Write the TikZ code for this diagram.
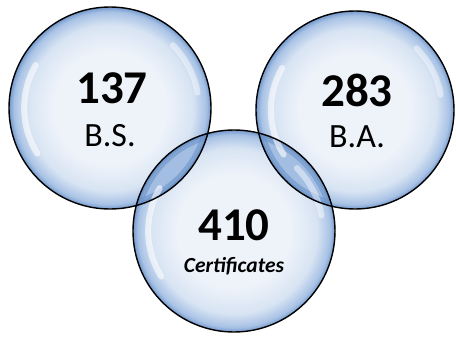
\documentclass[tikz,border=0pt]{standalone}
\usepackage{fontspec}
\setmainfont{Carlito}
\usetikzlibrary{calc}
\definecolor{bin}{HTML}{EEF3FA}
\definecolor{bmid}{HTML}{D8E4F3}
\definecolor{bedge}{HTML}{A8C2E5}
\definecolor{bedgeb}{HTML}{7499CC}
\definecolor{lensc}{HTML}{A3BEE2}
\definecolor{lensd}{HTML}{6790C7}
\pgfdeclareradialshading{bubble}{\pgfpoint{0bp}{0bp}}{color(0bp)=(bin); color(14bp)=(bin); color(20.5bp)=(bmid); color(23.8bp)=(bedge); color(25bp)=(bedgeb); color(50bp)=(bedgeb)}
\tikzset{
  bubblefill/.style={shading=bubble},
  outline/.style={draw=black, line width=1.4pt},
  hilite/.style={draw=white, line cap=round, line width=6pt, opacity=0.6},
  hilitesoft/.style={draw=white, line cap=round, line width=6pt, opacity=0.45},
  numtxt/.style={font=\fontsize{47}{47}\selectfont\bfseries, inner sep=0pt},
  lbltxt/.style={font=\fontsize{34}{34}\selectfont, inner sep=0pt},
  certtxt/.style={font=\fontsize{21.5}{21.5}\selectfont\bfseries\itshape, inner sep=0pt},
}
\begin{document}
\begin{tikzpicture}[x=1pt,y=-1pt]
\useasboundingbox (0,0) rectangle (456,338);
\coordinate (L) at (110,108);
\coordinate (R) at (355,110);
\coordinate (B) at (234,231);
\def\rL{101pt}\def\rR{99pt}\def\rB{101pt}
% bubble bodies
\shade[bubblefill] (L) circle (\rL);
\shade[bubblefill] (R) circle (\rR);
\shade[bubblefill] (B) circle (\rB);
% lens L and B
\begin{scope}
  \clip (L) circle (\rL);
  \clip (B) circle (\rB);
  \fill[lensc] (L) circle (\rL);
  \draw[lensd, line width=12pt, opacity=0.55] (L) circle (\rL);
  \draw[lensd, line width=12pt, opacity=0.55] (B) circle (\rB);
  \draw[lensd, line width=5pt, opacity=0.6] (L) circle (\rL);
  \draw[lensd, line width=5pt, opacity=0.6] (B) circle (\rB);
\end{scope}
% lens R and B
\begin{scope}
  \clip (R) circle (\rR);
  \clip (B) circle (\rB);
  \fill[lensc] (R) circle (\rR);
  \draw[lensd, line width=12pt, opacity=0.55] (R) circle (\rR);
  \draw[lensd, line width=12pt, opacity=0.55] (B) circle (\rB);
  \draw[lensd, line width=5pt, opacity=0.6] (R) circle (\rR);
  \draw[lensd, line width=5pt, opacity=0.6] (B) circle (\rB);
\end{scope}
% highlights
\foreach \c/\r in {L/101,R/99,B/101}{
  \draw[hilite] ($(\c)+(148:{0.85*\r})$) arc[start angle=148, end angle=210, radius={0.85*\r}];
  \draw[hilitesoft] ($(\c)+(-10:{0.88*\r})$) arc[start angle=-10, end angle=-45, radius={0.88*\r}];
}
% outlines
\draw[outline] (L) circle (\rL);
\draw[outline] (R) circle (\rR);
\draw[outline] (B) circle (\rB);
% text
\node[numtxt] (n1) at (112,88) {137};
\node[lbltxt] (t1) at (110,136) {B.S.};
\node[numtxt] (n2) at (357,90) {283};
\node[lbltxt] (t2) at (357,137) {B.A.};
\node[numtxt] (n3) at (234,225) {410};
\node[certtxt] (t3) at (234,266) {Certificates};
\end{tikzpicture}
\end{document}
